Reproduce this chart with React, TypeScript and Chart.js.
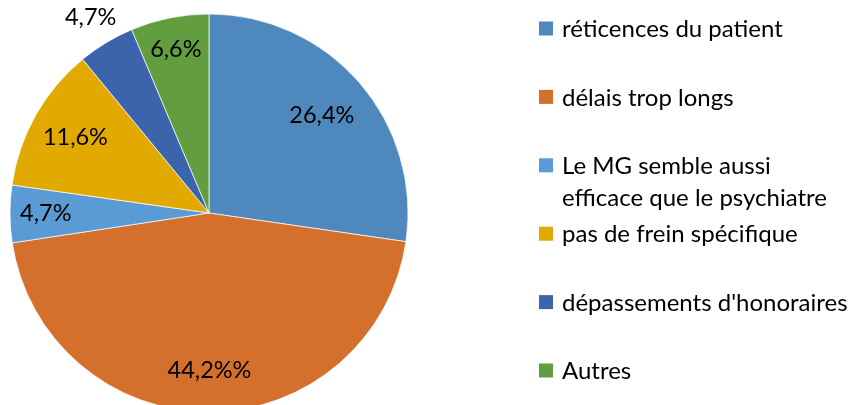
import React, { useEffect, useRef } from "react";
import { Chart, registerables } from "chart.js";

Chart.register(...registerables);

const categories: (string | string[])[] = [
  "réticences du patient",
  "délais trop longs",
  ["Le MG semble aussi", "efficace que le psychiatre"],
  "pas de frein spécifique",
  "dépassements d'honoraires",
  "Autres",
];
// slice shares as drawn in the picture (angles)
const shares = [27.3, 45.3, 4.65, 11.8, 4.6, 6.35];
// labels as printed on the slices
const valueLabels = ["26,4%", "44,2%%", "4,7%", "11,6%", "4,7%", "6,6%"];
const colors = ["#4F88BC", "#D46F2C", "#5B9BD5", "#E2AA00", "#3C64AC", "#629D40"];

const labelRadius = [0.75, 0.79, 0.82, 0.77, 1.15, 0.84];
const FONT = "Lato, 'Noto Sans', sans-serif";

const sliceLabels = {
  id: "sliceLabels",
  afterDatasetsDraw(chart: any) {
    const ctx = chart.ctx;
    const meta = chart.getDatasetMeta(0);
    ctx.save();
    ctx.font = `23.5px ${FONT}`;
    ctx.fillStyle = "#000";
    ctx.textAlign = "center";
    ctx.textBaseline = "middle";
    meta.data.forEach((arc: any, i: number) => {
      const p = arc.getProps(["x", "y", "startAngle", "endAngle", "outerRadius"], true);
      const mid = (p.startAngle + p.endAngle) / 2;
      const r = p.outerRadius * labelRadius[i];
      ctx.fillText(valueLabels[i], p.x + Math.cos(mid) * r, p.y + Math.sin(mid) * r);
    });
    ctx.restore();
  },
};

const sideLegend = {
  id: "sideLegend",
  afterDraw(chart: any) {
    const ctx = chart.ctx;
    const ds = chart.data.datasets[0];
    const top = 28.5;
    const step = 68.4;
    const lineGap = 32;
    ctx.save();
    ctx.font = `24px ${FONT}`;
    ctx.fillStyle = "#000";
    ctx.textAlign = "left";
    ctx.textBaseline = "middle";
    (chart.data.labels as any[]).forEach((lab: any, i: number) => {
      const cy = top + i * step;
      ctx.fillStyle = ds.backgroundColor[i];
      ctx.fillRect(539, cy - 7, 14, 14);
      ctx.fillStyle = "#000";
      const lines = Array.isArray(lab) ? lab : [lab];
      lines.forEach((t: string, j: number) => ctx.fillText(t, 562, cy + 1 + j * lineGap));
    });
    ctx.restore();
  },
};

export default function App() {
  const ref = useRef<HTMLCanvasElement | null>(null);
  useEffect(() => {
    if (!ref.current) return;
    const chart = new Chart(ref.current, {
      type: "pie",
      data: {
        labels: categories as any,
        datasets: [
          {
            data: shares,
            backgroundColor: colors,
            borderColor: "rgba(255,255,255,0.7)",
            borderWidth: 1,
          },
        ],
      },
      options: {
        animation: false,
        responsive: true,
        maintainAspectRatio: false,
        layout: { padding: { left: 9.5, right: 453.5, top: 13.5, bottom: 13.5 } },
        plugins: {
          legend: { display: false },
          tooltip: { enabled: false },
        },
      },
      plugins: [sliceLabels, sideLegend],
    });
    return () => chart.destroy();
  }, []);
  return (
    <div style={{ position: "fixed", left: 0, top: 0, width: 862, height: 405, overflow: "hidden", background: "#fff" }}>
      <div style={{ position: "relative", width: 862, height: 426 }}>
        <canvas ref={ref} />
      </div>
    </div>
  );
}
